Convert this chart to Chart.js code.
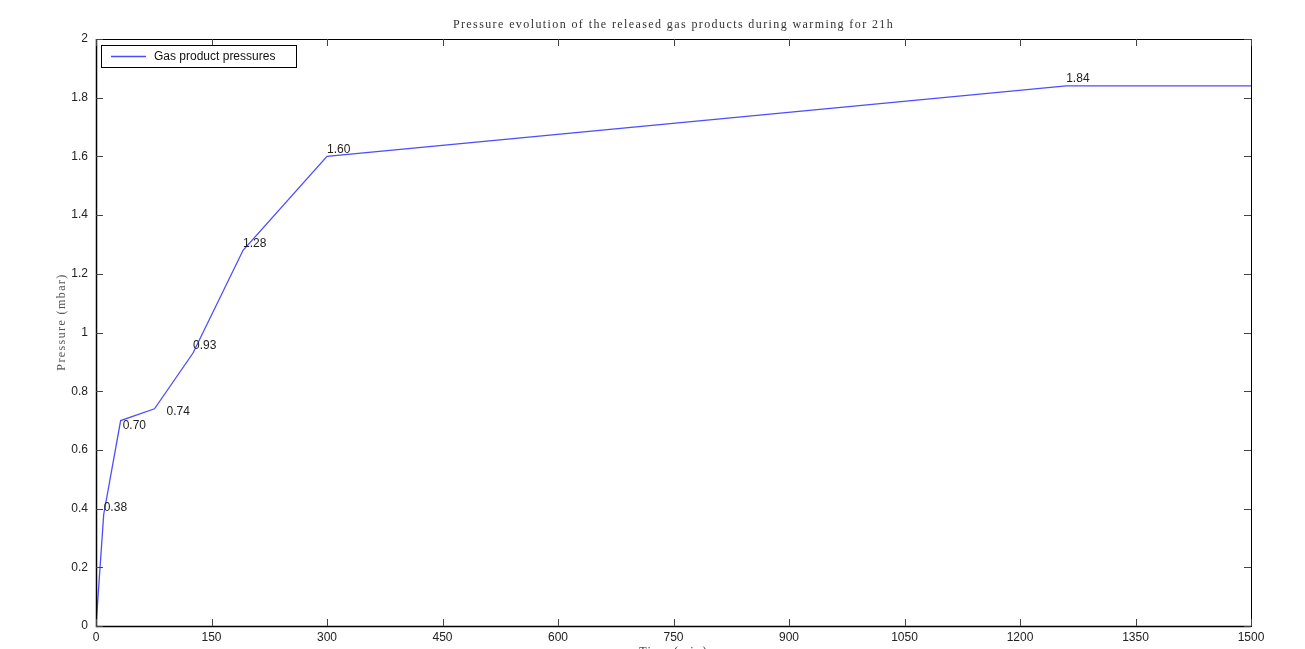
<!DOCTYPE html>
<html>
<head>
<meta charset="utf-8">
<script src="https://cdn.jsdelivr.net/npm/chart.js@4/dist/chart.umd.min.js"></script>
<style>
html,body{margin:0;padding:0;background:#fff;}
#wrap{width:1305px;height:649px;position:relative;}
</style>
</head>
<body>
<div id="wrap"><canvas id="c" width="1305" height="649"></canvas></div>
<script>
// ---- data ----
const timeMin = [0, 10, 32, 76, 126, 191, 300, 1260, 1500];
const pressureMbar = [0, 0.38, 0.70, 0.74, 0.93, 1.28, 1.60, 1.84, 1.84];
const labelledPoints = [1, 2, 3, 4, 5, 6, 7];
const xTicks = [0, 150, 300, 450, 600, 750, 900, 1050, 1200, 1350, 1500];
const yTicks = [0, 0.2, 0.4, 0.6, 0.8, 1, 1.2, 1.4, 1.6, 1.8, 2];
const seriesName = 'Gas product pressures';
const chartTitle = 'Pressure evolution of the released gas products during warming for 21h';
const xTitle = 'Time (min)';
const yTitle = 'Pressure (mbar)';

// label nudges (pixels) relative to the data point
const labelNudge = {2: [2, 5], 3: [12, 3]};

const LINE = '#4d4dff';

const decor = {
  id: 'decor',
  afterDraw(chart) {
    const ctx = chart.ctx;
    const a = chart.chartArea;
    const xs = chart.scales.x, ys = chart.scales.y;
    ctx.save();
    // box
    ctx.strokeStyle = '#000';
    ctx.lineWidth = 1;
    ctx.strokeRect(a.left + 0.5, a.top + 0.5, a.right - a.left, a.bottom - a.top);
    ctx.lineWidth = 1.5;
    ctx.beginPath();
    ctx.moveTo(a.left + 0.5, a.top); ctx.lineTo(a.left + 0.5, a.bottom + 0.5); ctx.lineTo(a.right, a.bottom + 0.5);
    ctx.stroke();
    // inner ticks
    ctx.lineWidth = 1;
    ctx.strokeStyle = '#444';
    const TL = 7;
    ctx.beginPath();
    xTicks.forEach(v => {
      const px = Math.round(xs.getPixelForValue(v)) + 0.5;
      ctx.moveTo(px, a.bottom); ctx.lineTo(px, a.bottom - TL);
      ctx.moveTo(px, a.top); ctx.lineTo(px, a.top + TL);
    });
    yTicks.forEach(v => {
      const py = Math.round(ys.getPixelForValue(v)) + 0.5;
      ctx.moveTo(a.left, py); ctx.lineTo(a.left + TL, py);
      ctx.moveTo(a.right, py); ctx.lineTo(a.right - TL, py);
    });
    ctx.stroke();

    // point labels
    ctx.fillStyle = '#222';
    ctx.font = '12px "Liberation Sans", Arial, sans-serif';
    ctx.textAlign = 'left';
    ctx.textBaseline = 'middle';
    labelledPoints.forEach(i => {
      const px = xs.getPixelForValue(timeMin[i]);
      const py = ys.getPixelForValue(pressureMbar[i]);
      const n = labelNudge[i] || [0, -7];
      ctx.fillText(pressureMbar[i].toFixed(2), px + n[0], py + n[1]);
    });

    // legend
    const lx = a.left + 5, ly = a.top + 6, lw = 195, lh = 22;
    ctx.fillStyle = '#fff';
    ctx.fillRect(lx, ly, lw, lh);
    ctx.strokeStyle = '#000';
    ctx.lineWidth = 1;
    ctx.strokeRect(lx + 0.5, ly + 0.5, lw, lh);
    ctx.strokeStyle = LINE;
    ctx.lineWidth = 1.3;
    ctx.beginPath();
    ctx.moveTo(lx + 10, ly + 11.5); ctx.lineTo(lx + 45, ly + 11.5);
    ctx.stroke();
    ctx.fillStyle = '#111';
    ctx.font = '12px "Liberation Sans", Arial, sans-serif';
    ctx.textBaseline = 'middle';
    ctx.fillText(chart.data.datasets[0].label, lx + 53, ly + 12);

    // titles
    ctx.fillStyle = '#333';
    ctx.font = '12px "Liberation Serif", "DejaVu Serif", serif';
    ctx.letterSpacing = '1.4px';
    ctx.textAlign = 'center';
    ctx.textBaseline = 'middle';
    ctx.fillText(chartTitle, (a.left + a.right) / 2, 25);
    ctx.textBaseline = 'top';
    ctx.fillText(xTitle, (a.left + a.right) / 2, 646);
    ctx.save();
    ctx.translate(62, 322);
    ctx.rotate(-Math.PI / 2);
    ctx.fillStyle = '#555';
    ctx.textBaseline = 'middle';
    ctx.fillText(yTitle, 0, 0);
    ctx.restore();
    ctx.restore();
  }
};

new Chart(document.getElementById('c'), {
  type: 'line',
  data: {
    datasets: [{
      label: seriesName,
      data: timeMin.map((t, i) => ({x: t, y: pressureMbar[i]})),
      borderColor: LINE,
      borderWidth: 1.3,
      pointRadius: 0,
      fill: false,
      tension: 0
    }]
  },
  options: {
    responsive: false,
    animation: false,
    devicePixelRatio: 1,
    layout: {padding: {top: 39, right: 54, left: 0, bottom: 0}},
    plugins: {legend: {display: false}, title: {display: false}, tooltip: {enabled: false}},
    scales: {
      x: {
        type: 'linear', min: 0, max: 1500,
        afterBuildTicks: s => { s.ticks = xTicks.map(v => ({value: v})); },
        afterFit: s => { s.height = 23; },
        grid: {display: false, drawTicks: false},
        border: {display: false},
        ticks: {padding: 4, color: '#222', font: {family: '"Liberation Sans", Arial, sans-serif', size: 12}, maxRotation: 0, autoSkip: false,
          callback: v => String(v)}
      },
      y: {
        type: 'linear', min: 0, max: 2,
        afterBuildTicks: s => { s.ticks = yTicks.map(v => ({value: v})); },
        afterFit: s => { s.width = 96; },
        grid: {display: false, drawTicks: false},
        border: {display: false},
        ticks: {padding: 8, color: '#222', font: {family: '"Liberation Sans", Arial, sans-serif', size: 12}, autoSkip: false,
          callback: v => String(+Number(v).toFixed(1))}
      }
    }
  },
  plugins: [decor]
});
</script>
</body>
</html>
